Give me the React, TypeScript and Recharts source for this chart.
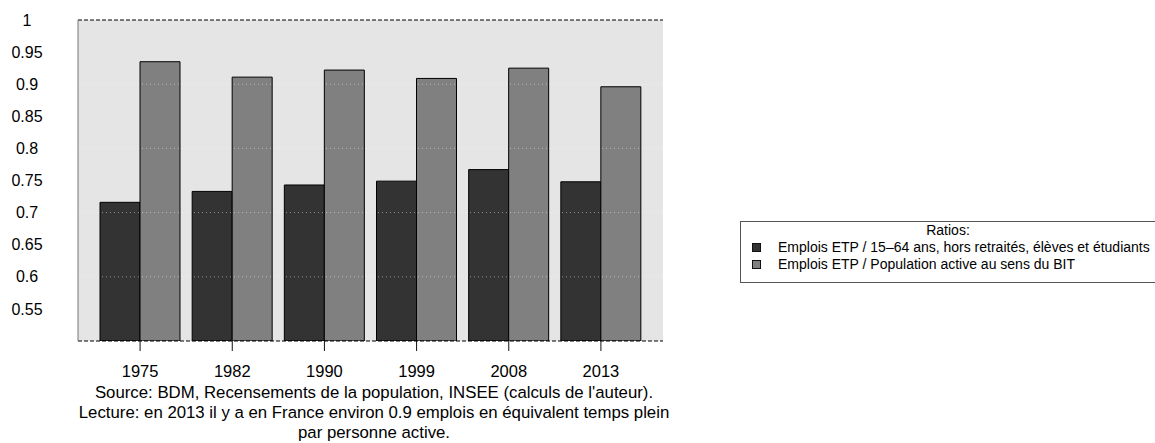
import React from 'react';
import { BarChart, Bar, XAxis, YAxis, CartesianGrid, ReferenceLine, Legend } from 'recharts';

const years = ['1975', '1982', '1990', '1999', '2008', '2013'];
const ratioPopulation = [0.716, 0.733, 0.743, 0.749, 0.767, 0.748];
const ratioActive = [0.935, 0.911, 0.922, 0.909, 0.925, 0.896];
const yTicks = [0.55, 0.6, 0.65, 0.7, 0.75, 0.8, 0.85, 0.9, 0.95, 1];
const gridValues = [0.6, 0.7, 0.8, 0.9];

const seriesNames = [
  'Emplois ETP / 15\u201364 ans, hors retraités, élèves et étudiants',
  'Emplois ETP / Population active au sens du BIT',
];
const captionLines = [
  "Source: BDM, Recensements de la population, INSEE (calculs de l'auteur).",
  'Lecture: en 2013 il y a en France environ 0.9 emplois en équivalent temps plein',
  'par personne active.',
];

const data = years.map((year, i) => ({
  year,
  pop: ratioPopulation[i],
  active: ratioActive[i],
}));

const font = '"Liberation Sans", Arial, sans-serif';
const plotBottom = 341;

const YTick = (props: any) => (
  <text x={27} y={props.y} dy="0.355em" textAnchor="middle" fontSize={16} fill="#000" fontFamily={font}>
    {props.payload.value}
  </text>
);

// tick mark + label drawn together below the plot box
const XTick = (props: any) => (
  <g>
    <line x1={props.x} x2={props.x} y1={plotBottom} y2={plotBottom + 10} stroke="#111" />
    <text x={props.x} y={377} textAnchor="middle" fontSize={16.5} fill="#000" fontFamily={font}>
      {props.payload.value}
    </text>
  </g>
);

const Caption = () => (
  <text textAnchor="middle" fontSize={16.8} fill="#000" fontFamily={font}>
    {captionLines.map((line, i) => (
      <tspan key={i} x={374} y={397.5 + i * 20}>
        {line}
      </tspan>
    ))}
  </text>
);

const LegendBox = () => (
  <div
    style={{
      boxSizing: 'border-box',
      width: 416,
      height: 62,
      border: '1px solid #555',
      fontFamily: font,
      fontSize: 14,
      color: '#000',
      lineHeight: '17px',
    }}
  >
    <div style={{ textAlign: 'center' }}>Ratios:</div>
    {seriesNames.map((name, i) => (
      <div key={i} style={{ display: 'flex', alignItems: 'center', paddingLeft: 11 }}>
        <span
          style={{
            display: 'inline-block',
            width: 9,
            height: 9,
            boxSizing: 'border-box',
            background: i === 0 ? '#333333' : '#808080',
            border: '1px solid #111',
            marginRight: 17,
          }}
        />
        <span style={{ whiteSpace: 'nowrap' }}>{name}</span>
      </div>
    ))}
  </div>
);

export default function App() {
  return (
    <div style={{ position: 'absolute', left: 0, top: 0, width: 1155, height: 443, overflow: 'hidden', background: '#fff' }}>
      <BarChart
        width={1155}
        height={443}
        data={data}
        margin={{ top: 20, right: 492, bottom: 0, left: 0 }}
        barCategoryGap={6}
        barGap={0}
      >
        <CartesianGrid fill="#e5e5e5" horizontal={false} vertical={false} />
        <XAxis
          dataKey="year"
          height={102}
          padding={{ left: 16, right: 16 }}
          axisLine={false}
          tickLine={false}
          tick={<XTick />}
          interval={0}
          label={{ content: () => <Caption /> }}
        />
        <YAxis
          width={78}
          domain={[0.5, 1]}
          ticks={yTicks}
          allowDataOverflow
          axisLine={{ stroke: '#777' }}
          tickLine={false}
          tick={<YTick />}
        />
        <YAxis
          yAxisId="right"
          orientation="right"
          width={0}
          tick={false}
          tickLine={false}
          axisLine={{ stroke: '#666', strokeWidth: 2 }}
        />
        <Bar dataKey="pop" name={seriesNames[0]} fill="#333333" stroke="#000" strokeWidth={1} isAnimationActive={false} />
        <Bar dataKey="active" name={seriesNames[1]} fill="#808080" stroke="#000" strokeWidth={1} isAnimationActive={false} />
        {gridValues.map((v) => (
          <ReferenceLine key={v} y={v} stroke="#fff" strokeOpacity={0.45} strokeDasharray="1 3" />
        ))}
        <ReferenceLine y={1} stroke="#000" strokeDasharray="4 2" />
        <ReferenceLine y={0.5} stroke="#000" strokeDasharray="4 2" />
        <Legend
          layout="horizontal"
          align="center"
          verticalAlign="middle"
          wrapperStyle={{ left: 740, top: 221, width: 416 }}
          content={() => <LegendBox />}
        />
      </BarChart>
    </div>
  );
}
